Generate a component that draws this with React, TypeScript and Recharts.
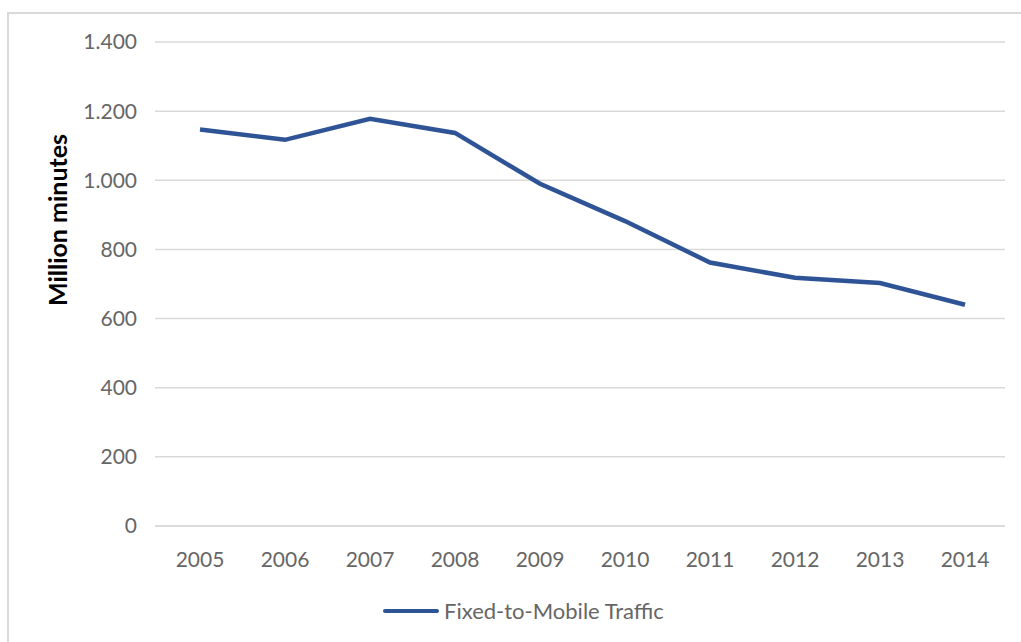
import { LineChart, Line, XAxis, YAxis, CartesianGrid, Legend } from 'recharts'

const years = ['2005', '2006', '2007', '2008', '2009', '2010', '2011', '2012', '2013', '2014']
const fixedToMobile = [1147, 1117, 1178, 1137, 990, 882, 762, 718, 703, 640]
const yTicks = [0, 200, 400, 600, 800, 1000, 1200, 1400]

const SERIES_NAME = 'Fixed-to-Mobile Traffic'
const LINE_COLOR = '#2f5496'
const FONT = 'Lato, "Open Sans", sans-serif'
const TICK = { fill: '#666666', fontSize: 21, fontFamily: FONT }

const data = years.map((year, i) => ({ year, value: fixedToMobile[i] }))

// Excel-style thousands separator with a dot
const fmt = (v: number) => v.toLocaleString('de-DE')

function LegendRow() {
  return (
    <div style={{ display: 'flex', alignItems: 'center', fontFamily: FONT, fontSize: 22, color: '#666666' }}>
      <svg width={56} height={8} style={{ marginRight: 5 }}>
        <line x1={2} y1={4} x2={54} y2={4} stroke={LINE_COLOR} strokeWidth={4} strokeLinecap="round" />
      </svg>
      <span>{SERIES_NAME}</span>
    </div>
  )
}

export default function App() {
  return (
    <div style={{ position: 'fixed', left: 0, top: 0, width: 1021, height: 642, background: '#fff', overflow: 'hidden' }}>
      {/* chart frame */}
      <div style={{ position: 'absolute', left: 7, top: 12, width: 1040, height: 660, border: '2px solid #d9d9d9', boxSizing: 'border-box' }} />

      <div style={{ position: 'absolute', left: 0, top: 0 }}>
        <LineChart width={1021} height={642} data={data} margin={{ top: 42, right: 16, bottom: 86, left: 55 }}>
          <CartesianGrid vertical={false} stroke="#d9d9d9" strokeWidth={1.5} />
          <XAxis
            dataKey="year"
            height={30}
            padding={{ left: 45, right: 40 }}
            axisLine={{ stroke: '#d9d9d9', strokeWidth: 1.5 }}
            tickLine={false}
            tickSize={0}
            tickMargin={26}
            tick={TICK}
          />
          <YAxis
            width={100}
            domain={[0, 1400]}
            ticks={yTicks}
            tickFormatter={fmt}
            axisLine={false}
            tickLine={false}
            tickSize={0}
            tickMargin={18}
            tick={TICK}
          />
          <Legend
            layout="horizontal"
            verticalAlign="middle"
            align="center"
            wrapperStyle={{ left: 383, top: 597, width: 'auto' }}
            content={() => <LegendRow />}
          />
          <Line
            type="linear"
            dataKey="value"
            name={SERIES_NAME}
            stroke={LINE_COLOR}
            strokeWidth={4.5}
            dot={false}
            activeDot={false}
            isAnimationActive={false}
          />
        </LineChart>
      </div>

      {/* rotated axis title */}
      <div
        style={{
          position: 'absolute',
          left: 57,
          top: 220,
          transform: 'translate(-50%, -50%) rotate(-90deg)',
          whiteSpace: 'nowrap',
          fontFamily: FONT,
          fontWeight: 700,
          fontSize: 25,
          color: '#000',
        }}
      >
        Million minutes
      </div>
    </div>
  )
}
